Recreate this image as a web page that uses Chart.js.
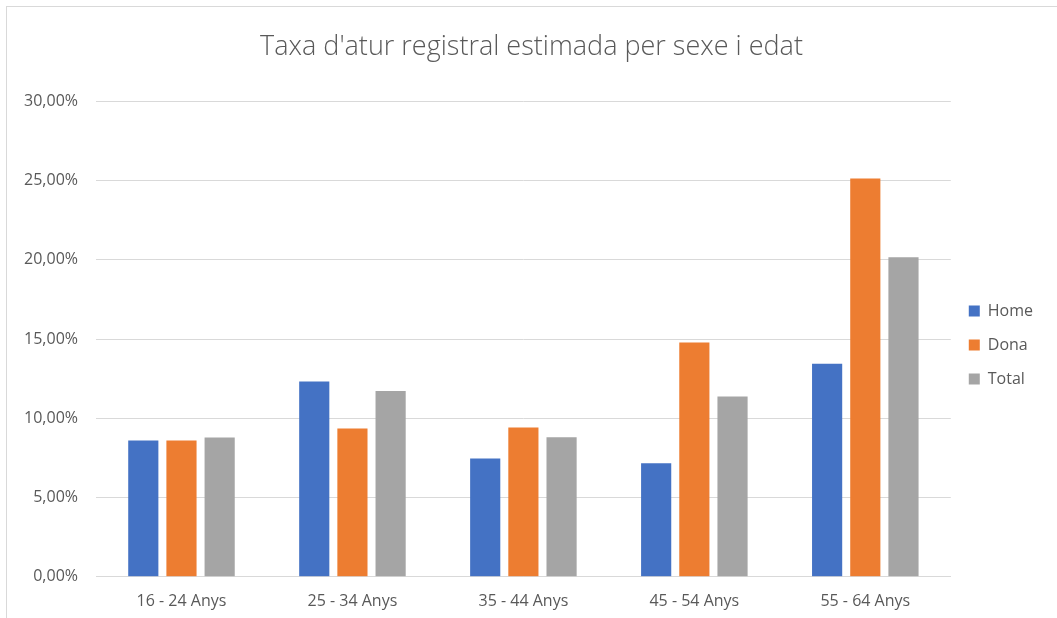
<!DOCTYPE html>
<html>
<head>
<meta charset="utf-8">
<script src="https://cdn.jsdelivr.net/npm/chart.js@4.4.1/dist/chart.umd.min.js"></script>
<style>
  html, body { margin: 0; padding: 0; background: #fff; }
  #frame {
    position: absolute; left: 6px; top: 6px; width: 1060px; height: 620px;
    border-left: 1px solid #d9d9d9; border-top: 1px solid #d9d9d9;
  }
  #wrap { position: absolute; left: 0; top: 0; width: 1057px; height: 618px; }
</style>
</head>
<body>
<div id="frame"></div>
<div id="wrap"><canvas id="barChart"></canvas></div>
<script>
var categories = ['16 - 24 Anys', '25 - 34 Anys', '35 - 44 Anys', '45 - 54 Anys', '55 - 64 Anys'];
var home = [8.60, 12.32, 7.46, 7.17, 13.44];
var dona = [8.60, 9.36, 9.42, 14.79, 25.13];
var total = [8.79, 11.73, 8.81, 11.37, 20.16];
var yTicks = [0, 5, 10, 15, 20, 25, 30];

var textColor = '#595959';
var font = "'Open Sans', 'Liberation Sans', sans-serif";

var data = {
  labels: categories,
  datasets: [
    { label: 'Home', data: home, backgroundColor: '#4472c4' },   // blue
    { label: 'Dona', data: dona, backgroundColor: '#ed7d31' },   // orange
    { label: 'Total', data: total, backgroundColor: '#a5a5a5' }  // grey
  ]
};

var options = {
  responsive: true,
  maintainAspectRatio: false,
  animation: false,
  layout: { padding: { left: 20, right: 14, top: 31, bottom: 0 } },
  datasets: { bar: { categoryPercentage: 0.67, barPercentage: 0.79 } },
  plugins: {
    title: {
      display: true,
      text: "Taxa d'atur registral estimada per sexe i edat",
      color: textColor,
      font: { family: font, size: 27, weight: '300' },
      padding: { top: 0, bottom: 38 }
    },
    legend: {
      position: 'right',
      // empty legend title, only used to push the items down a bit
      title: { display: true, text: ' ', font: { size: 1 }, padding: { top: 20, bottom: 20 } },
      labels: {
        color: textColor,
        font: { family: font, size: 16 },
        boxWidth: 11,
        boxHeight: 11,
        padding: 18
      }
    },
    tooltip: { enabled: false }
  },
  scales: {
    x: {
      grid: { display: false },
      border: { color: '#d9d9d9' },
      ticks: { color: textColor, font: { family: font, size: 16 }, padding: 7 }
    },
    y: {
      min: 0,
      max: 30,
      afterBuildTicks: function(scale) {
        scale.ticks = yTicks.map(function(v) { return { value: v }; });
      },
      afterFit: function(scale) { scale.width = 76; },
      grid: { color: '#d9d9d9', drawTicks: false },
      border: { display: false },
      ticks: {
        color: textColor,
        font: { family: font, size: 16 },
        padding: 18,
        callback: function(v) { return v.toFixed(2).replace('.', ',') + '%'; }
      }
    }
  }
};

var ctx = document.getElementById('barChart').getContext('2d');
var myBarChart = new Chart(ctx, { type: 'bar', data: data, options: options });
</script>
</body>
</html>
